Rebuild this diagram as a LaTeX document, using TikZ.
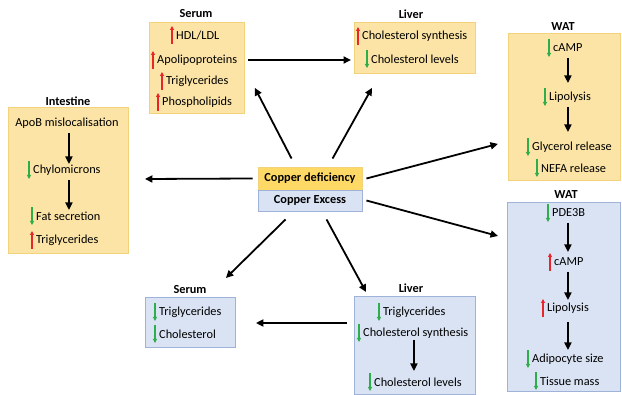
\documentclass[tikz,border=0pt]{standalone}
\usepackage{fontspec}
\setmainfont{Carlito}
\usetikzlibrary{arrows.meta,calc}

\definecolor{ylwfill}{HTML}{FBE4A6}
\definecolor{ylwline}{HTML}{F2D27A}
\definecolor{ylwstrong}{HTML}{FFD966}
\definecolor{blufill}{HTML}{DAE3F3}
\definecolor{bluline}{HTML}{9FB3D9}
\definecolor{upred}{HTML}{E8262A}
\definecolor{dngreen}{HTML}{2EAD4B}

\tikzset{
  panel/.style={draw=#1line, fill=#1fill, line width=0.9, inner sep=0, anchor=north west},
  cubox/.style={line width=0.9, inner sep=0, minimum width=104, font=\bfseries\fontsize{12.3}{14}\selectfont},
  lbl/.style={font=\fontsize{12.3}{14}\selectfont, inner sep=0, anchor=west},
  ttl/.style={font=\bfseries\fontsize{12.3}{14}\selectfont, inner sep=0},
  flow/.style={line width=1.8, -{Triangle[length=7.5,width=7]}},
  upmark/.style={draw=upred, line width=1.3, -{Triangle[length=4,width=4]}},
  dnmark/.style={draw=dngreen, line width=1.3, -{Triangle[length=4,width=4]}},
}

% small change markers drawn just left of a text line
\newcommand\upmk[1]{\draw[upmark] ($(#1.west)+(-4,9)$) -- ($(#1.west)+(-4,-9)$);}
\newcommand\dnmk[1]{\draw[dnmark] ($(#1.west)+(-4,-9)$) -- ($(#1.west)+(-4,9)$);}

\begin{document}
\begin{tikzpicture}[x=1pt,y=-1pt]
\useasboundingbox (0,0) rectangle (622,395);

% ---------- panels ----------
\node[panel=ylw, minimum width=95,  minimum height=91]  (serumA) at (149,22)  {};
\node[panel=ylw, minimum width=121, minimum height=51]  (liverA) at (354,22)  {};
\node[panel=ylw, minimum width=112, minimum height=147] (watA)   at (508,33)  {};
\node[panel=ylw, minimum width=120, minimum height=146] (intest) at (8,107)   {};
\node[panel=blu, minimum width=113, minimum height=189] (watB)   at (507,202) {};
\node[panel=blu, minimum width=90,  minimum height=50]  (serumB) at (145,297) {};
\node[panel=blu, minimum width=121, minimum height=98]  (liverB) at (354,296) {};

% ---------- centre ----------
\node[cubox, draw=ylwline, fill=ylwstrong, minimum height=23] (cd) at (310,178.5) {Copper deficiency};
\node[cubox, draw=bluline, fill=blufill, minimum height=21] (ce) at (310,200.5) {Copper Excess};

% ---------- titles ----------
\node[ttl] (tSerumA) at (196,14)  {Serum};
\node[ttl] (tLiverA) at (411,14)  {Liver};
\node[ttl] (tWatA)   at (563,27)  {WAT};
\node[ttl] (tInt)    at (68,101)  {Intestine};
\node[ttl] (tWatB)   at (566,195) {WAT};
\node[ttl] (tSerumB) at (190,290) {Serum};
\node[ttl] (tLiverB) at (411,288) {Liver};

% ---------- serum (deficiency) ----------
\node[lbl] (sa1) at (176,35)  {HDL/LDL};
\node[lbl] (sa2) at (157,60)  {Apolipoproteins};
\node[lbl] (sa3) at (166,81)  {Triglycerides};
\node[lbl] (sa4) at (162,102) {Phospholipids};
\upmk{sa1}\upmk{sa2}\upmk{sa3}\upmk{sa4}

% ---------- liver (deficiency) ----------
\node[lbl] (la1) at (362,36) {Cholesterol synthesis};
\node[lbl] (la2) at (371,59) {Cholesterol levels};
\upmk{la1}\dnmk{la2}

% ---------- WAT (deficiency) ----------
\node[lbl] (wa1) at (553,48)  {cAMP};
\node[lbl] (wa2) at (549,97)  {Lipolysis};
\node[lbl] (wa3) at (532,147) {Glycerol release};
\node[lbl] (wa4) at (541,168) {NEFA release};
\dnmk{wa1}\dnmk{wa2}\dnmk{wa3}\dnmk{wa4}
\draw[flow] ($(wa1.center -| watA.north)+(3.5,10)$) -- ($(wa2.center -| watA.north)+(3.5,-14)$);
\draw[flow] ($(wa2.center -| watA.north)+(3.5,10)$) -- ($(wa3.center -| watA.north)+(3.5,-15)$);

% ---------- intestine ----------
\node[lbl, anchor=center] (in1) at (67,123) {ApoB mislocalisation};
\node[lbl] (in2) at (33,170) {Chylomicrons};
\node[lbl] (in3) at (36,216) {Fat secretion};
\node[lbl] (in4) at (36,240) {Triglycerides};
\dnmk{in2}\dnmk{in3}\upmk{in4}
\draw[flow] ($(in1.center -| intest.north)+(0.5,10)$) -- ($(in2.center -| intest.north)+(0.5,-6)$);
\draw[flow] ($(in2.center -| intest.north)+(0.5,10)$) -- ($(in3.center -| intest.north)+(0.5,-6)$);

% ---------- WAT (excess) ----------
\node[lbl] (wb1) at (552,213) {PDE3B};
\node[lbl] (wb2) at (554,262) {cAMP};
\node[lbl] (wb3) at (547,308) {Lipolysis};
\node[lbl] (wb4) at (532,359) {Adipocyte size};
\node[lbl] (wb5) at (540,381) {Tissue mass};
\dnmk{wb1}\upmk{wb2}\upmk{wb3}\dnmk{wb4}\dnmk{wb5}
\draw[flow] ($(wb1.center -| watB.north)+(4,10)$) -- ($(wb2.center -| watB.north)+(4,-10)$);
\draw[flow] ($(wb2.center -| watB.north)+(4,10)$) -- ($(wb3.center -| watB.north)+(4,-8)$);
\draw[flow] ($(wb3.center -| watB.north)+(4,14)$) -- ($(wb4.center -| watB.north)+(4,-9)$);

% ---------- serum (excess) ----------
\node[lbl] (sb1) at (159,312) {Triglycerides};
\node[lbl] (sb2) at (159,334) {Cholesterol};
\dnmk{sb1}\dnmk{sb2}

% ---------- liver (excess) ----------
\node[lbl] (lb1) at (383,312) {Triglycerides};
\node[lbl] (lb2) at (363,333) {Cholesterol synthesis};
\node[lbl] (lb3) at (374,382) {Cholesterol levels};
\dnmk{lb1}\dnmk{lb2}\dnmk{lb3}
\draw[flow] ($(lb2.center -| liverB.north)+(-1,7)$) -- ($(lb3.center -| liverB.north)+(-1,-11)$);

% ---------- connectors between panels ----------
\draw[flow] ($(serumA.north east)+(3,38)$) -- ($(liverA.north west)+(-3,38)$);
\draw[flow] ($(cd.north west)+(34,-8)$) -- ($(serumA.south east)+(10,-26)$);
\draw[flow] ($(cd.north west)+(75,-8)$) -- ($(liverA.south west)+(18,14)$);
\draw[flow] ($(cd.west)+(-5,0)$) -- ($(intest.north east)+(16,72)$);
\draw[flow] ($(cd.east)+(4,0)$) -- ($(watA.south west)+(-10,-37)$);
\draw[flow] ($(ce.east)+(4,0)$) -- ($(watB.north west)+(-9,34)$);
\draw[flow] ($(ce.south west)+(28,8)$) -- ($(serumB.north east)+(-10,-19)$);
\draw[flow] ($(ce.south west)+(69,8)$) -- ($(liverB.north west)+(12,-4)$);
\draw[flow] ($(liverB.north west)+(-7,27)$) -- ($(serumB.north east)+(20,26)$);
\end{tikzpicture}
\end{document}
